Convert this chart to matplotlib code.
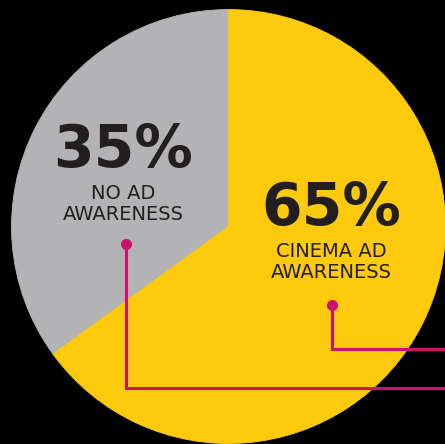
# Cinema ad awareness pie, cropped on a black background
import numpy as np
import matplotlib.pyplot as plt

labels = ['NO AD\nAWARENESS', 'CINEMA AD\nAWARENESS']
values = [35, 65]
colors = ['#B3B3B5', '#FECA0D']
pct_text = ['%d%%' % v for v in values]

W, H = 445, 444
fig = plt.figure(figsize=(W / 100, H / 100), dpi=100, facecolor='black')
ax = fig.add_axes([0, 0, 1, 1])
ax.set_facecolor('black')

# pie in pixel coordinates (y up)
cx, cy, r = 228.5, H - 226.5, 217
wedges, _ = ax.pie(values, colors=colors, startangle=90, counterclock=True,
                   center=(cx, cy), radius=r, wedgeprops=dict(linewidth=0.6))
for w, c in zip(wedges, colors):
    w.set_edgecolor(c)  # hide the seam between slices

ax.set_xlim(0, W)
ax.set_ylim(0, H)
ax.set_aspect('equal')
ax.axis('off')

dark = '#231F20'
pink = '#D0106E'

# big percentages + labels
txt_pos = [(123, H - 151), (331, H - 209)]
for i in range(len(values)):
    x, y = txt_pos[i]
    ax.text(x, y, pct_text[i], ha='center', va='center', fontsize=42,
            fontweight='bold', color=dark)
    ax.text(x, y - 53, labels[i], ha='center', va='center', fontsize=14,
            color=dark, linespacing=1.1)

# leader lines
ax.plot([332, 332, W + 5], [H - 305, H - 349, H - 349], color=pink, lw=2.2,
        solid_joinstyle='miter')
ax.plot([332], [H - 305], 'o', color=pink, ms=7)
ax.plot([126, 126, W + 5], [H - 244, H - 388, H - 388], color=pink, lw=2.2,
        solid_joinstyle='miter')
ax.plot([126], [H - 244], 'o', color=pink, ms=7)

fig.savefig('out.png', dpi=100, facecolor='black')
